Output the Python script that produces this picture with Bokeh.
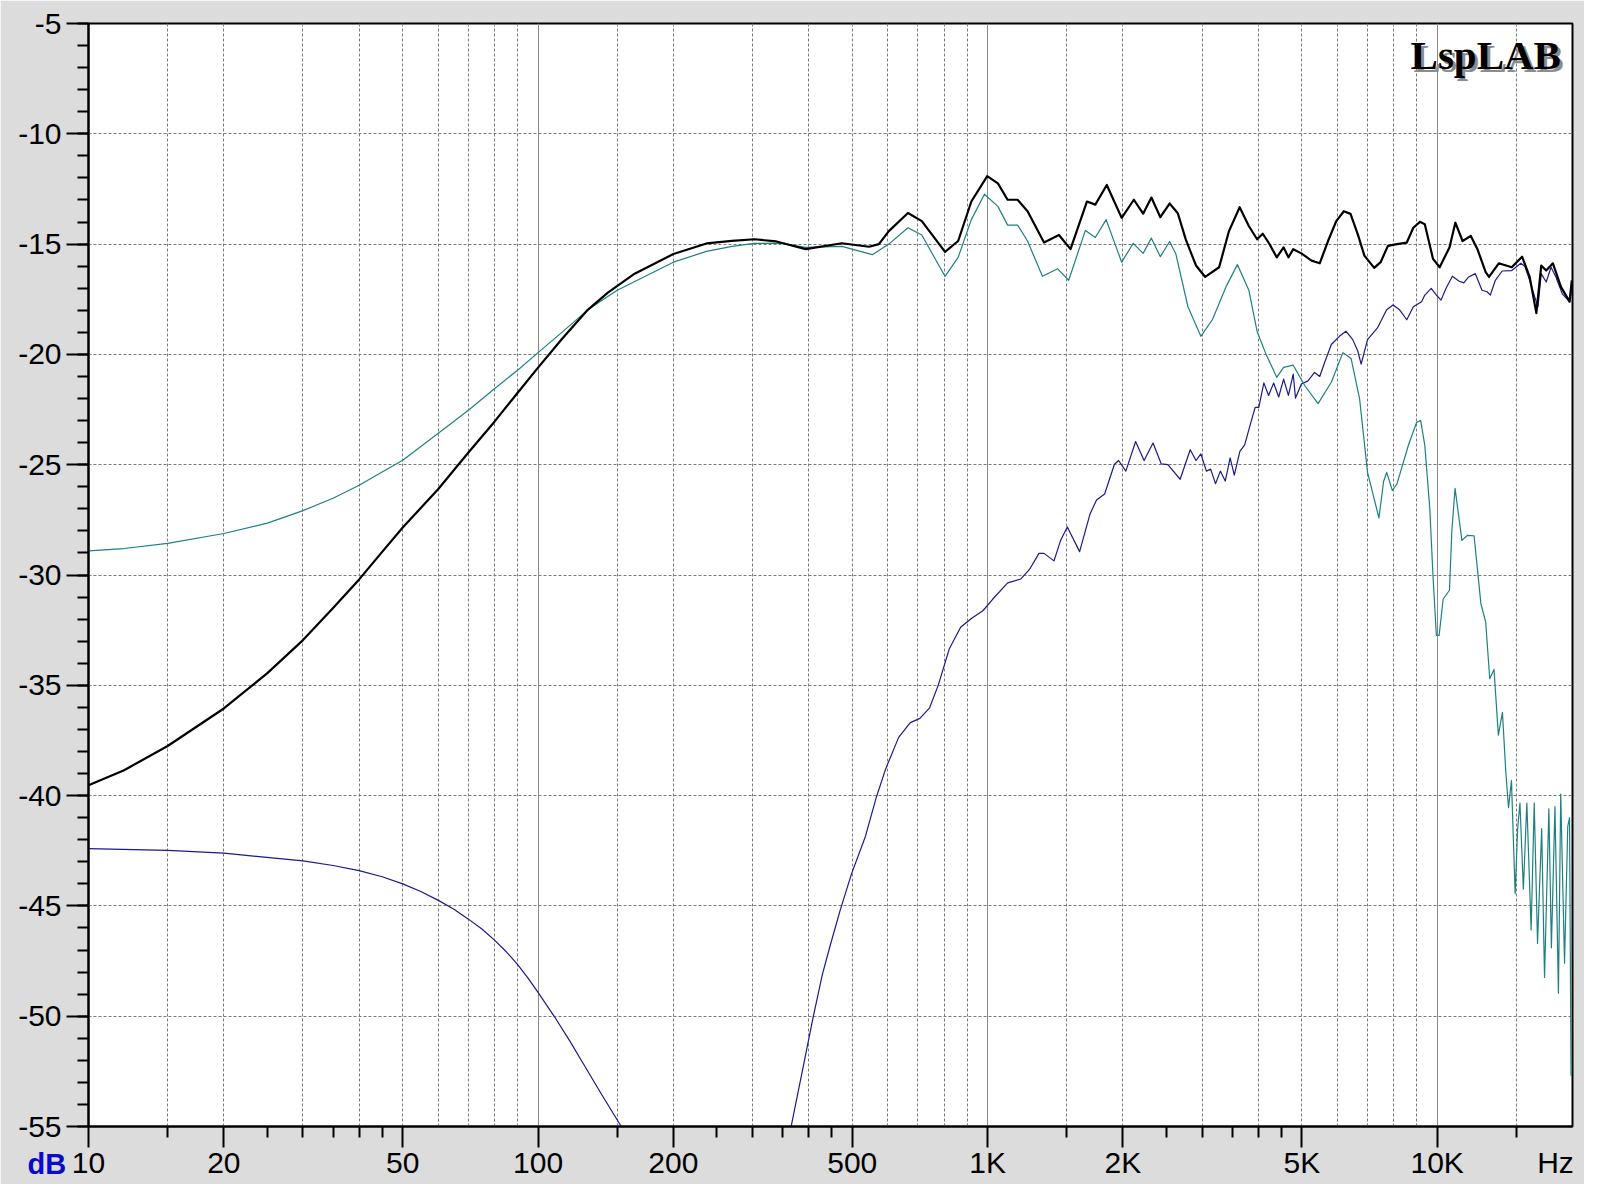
from bokeh.plotting import figure
from bokeh.models import Range1d, FixedTicker, CustomJSTickFormatter, Grid, Label, LogAxis, Title
from bokeh.embed import file_html
from bokeh.resources import INLINE

# ---------------- data (Hz, dB) ----------------
total_hz = [10, 12, 15, 20, 25, 30, 35, 40, 45, 50, 60, 70, 80, 90, 100, 113, 129, 143, 164, 200, 237,
            270, 303, 339, 394, 474, 545, 573, 603, 665, 714, 804, 860, 920, 998, 1054, 1108, 1166, 1227,
            1335, 1441, 1529, 1663, 1736, 1841, 1987, 2115, 2218, 2314, 2422, 2540, 2649, 2760, 2908,
            3048, 3273, 3443, 3636, 3811, 3976, 4093, 4217, 4397, 4554, 4668, 4784, 4988, 5254, 5480,
            5718, 5964, 6201, 6416, 6660, 6888, 7243, 7486, 7770, 8142, 8559, 8850, 9154, 9386, 9790,
            10128, 10650, 10976, 11390, 11880, 12290, 12820, 13040, 13710, 14650, 15450, 16060, 16620,
            17040, 17480, 18090, 18850, 19700, 19930]
total_db = [-39.53, -38.85, -37.75, -36.05, -34.45, -32.95, -31.5, -30.2, -28.95, -27.85, -26.1, -24.45,
            -23.05, -21.75, -20.6, -19.3, -17.98, -17.2, -16.34, -15.45, -14.97, -14.85, -14.78, -14.88,
            -15.23, -14.96, -15.12, -15.0, -14.41, -13.59, -13.96, -15.35, -14.86, -13.07, -11.92, -12.25,
            -12.99, -12.99, -13.51, -14.93, -14.59, -15.23, -13.07, -13.21, -12.32, -13.81, -12.99, -13.62,
            -12.89, -13.78, -13.16, -13.6, -14.8, -15.97, -16.49, -16.05, -14.41, -13.33, -14.18, -14.78,
            -14.53, -14.93, -15.6, -15.15, -15.6, -15.23, -15.42, -15.75, -15.87, -14.86, -13.96, -13.51,
            -13.63, -14.56, -15.52, -16.08, -15.82, -15.08, -15.0, -14.93, -14.26, -13.99, -14.1, -15.67,
            -16.05, -15.15, -14.03, -14.86, -14.63, -15.23, -16.27, -16.49, -15.87, -16.05, -15.57, -16.49,
            -18.13, -15.97, -16.2, -15.87, -16.94, -17.61, -16.64]

woofer_hz = [10, 12, 15, 20, 25, 30, 35, 40, 44, 50, 60, 70, 80, 90.6, 100, 113, 129, 150, 200, 237, 270,
             303, 345, 394, 474, 554, 603, 665, 714, 804, 860, 920, 984, 1054, 1108, 1166, 1227, 1324, 1432,
             1515, 1650, 1736, 1835, 1987, 2108, 2218, 2314, 2422, 2540, 2623, 2790, 2981, 3162, 3390, 3594,
             3811, 3976, 4148, 4397, 4554, 4784, 5074, 5433, 5815, 6170, 6436, 6720, 7000, 7420, 7600, 7720,
             7950, 8142, 8630, 9000, 9190, 9386, 9630, 9790, 9960, 10100, 10310, 10650, 10780, 10960,
             11350, 11680, 12080, 12510, 12820, 13090, 13380, 13680, 13970, 14210, 14410, 14630, 14910,
             15100, 15280, 15550, 15830, 16180, 16440, 16720, 17080, 17330, 17720, 17950, 18280, 18610,
             18830, 19200, 19520, 19700, 19850]
woofer_db = [-28.91, -28.8, -28.57, -28.12, -27.65, -27.08, -26.52, -25.93, -25.44, -24.8, -23.57, -22.53,
             -21.56, -20.67, -19.92, -19.0, -17.98, -17.09, -15.82, -15.33, -15.1, -14.97, -14.96, -15.15,
             -15.1, -15.48, -15.0, -14.26, -14.59, -16.46, -15.6, -13.89, -12.74, -13.29, -14.14, -14.14,
             -14.86, -16.46, -16.12, -16.64, -14.38, -14.7, -13.89, -15.82, -14.97, -15.42, -14.73, -15.57,
             -14.88, -15.45, -17.84, -19.18, -18.43, -16.94, -15.93, -17.09, -18.96, -19.92, -21.04, -20.59,
             -20.49, -21.41, -22.23, -21.26, -19.92, -20.19, -22.0, -25.35, -27.41, -25.76, -25.35, -26.17,
             -25.86, -24.12, -23.09, -22.99, -24.12, -27.0, -30.08, -32.74, -32.74, -31.1, -30.69, -28.02,
             -26.07, -28.43, -28.2, -28.22, -31.3, -32.13, -34.7, -34.28, -37.26, -36.23, -38.9, -40.55,
             -39.32, -44.45, -41.5, -40.34, -44.24, -40.34, -46.09, -40.34, -46.7, -41.5, -48.24, -40.6,
             -46.9, -40.5, -48.96, -39.93, -47.6, -41.4, -41.0, -52.7]

tweeter_hz = [10, 15, 20, 30, 35, 40, 45, 50, 55, 60, 65, 70, 75, 80, 85, 90, 95, 100, 109, 117.6, 126.3,
              138.5, 150.5, 154, 158,
              160, 355,
              358, 366, 389, 410, 429, 447, 470, 498, 535, 566, 593, 634, 673, 707, 743, 777, 822, 871,
              920, 976, 1026, 1108, 1186, 1238, 1301, 1335, 1405, 1454, 1504, 1602, 1690, 1747, 1821,
              1914, 1956, 2030, 2134, 2229, 2333, 2433, 2517, 2681, 2823, 2908, 2981, 3067, 3134, 3213,
              3294, 3378, 3463, 3538, 3640, 3731, 3846, 3937, 4011, 4116, 4217, 4328, 4441, 4554, 4668,
              4784, 4840, 4988, 5160, 5337, 5480, 5619, 5815, 6060, 6267, 6489, 6660, 6775, 7000, 7364,
              7720, 7976, 8250, 8559, 8850, 9232, 9386, 9700, 9960, 10200, 10460, 10810, 11170, 11460,
              11750, 12160, 12580, 12910, 13130, 13470, 13950, 14650, 15350, 15660, 16060, 16480, 16760,
              17040, 17480, 17920, 18370, 19000, 19700, 19930]
tweeter_db = [-42.4, -42.48, -42.61, -42.96, -43.17, -43.4, -43.68, -44.0, -44.36, -44.75, -45.15, -45.6,
              -46.05, -46.55, -47.08, -47.65, -48.27, -48.92, -50.05, -51.12, -52.18,
              -53.55, -54.75, -55.08, -55.45,
              float("nan"), float("nan"),
              -55.4, -54.95, -52.27, -49.96, -48.1, -46.76, -45.19, -43.55, -41.84, -40.05, -38.8, -37.36,
              -36.69, -36.5, -36.02, -34.98, -33.34, -32.37, -31.97, -31.62, -31.1, -30.36, -30.18, -29.76,
              -29.02, -29.02, -29.36, -28.42, -27.82, -28.94, -27.23, -26.6, -26.33, -24.99, -24.81, -25.29,
              -23.95, -24.81, -24.02, -24.96, -25.0, -25.66, -24.32, -24.81, -24.51, -25.29, -25.2, -25.86,
              -25.29, -25.74, -24.69, -25.47, -24.4, -24.1, -23.13, -22.4, -22.4, -21.29, -21.86, -21.3,
              -21.93, -21.12, -21.86, -20.89, -21.98, -21.34, -21.2, -20.82, -21.0, -20.37, -19.55, -19.18,
              -18.95, -19.33, -19.85, -20.44, -19.33, -18.8, -17.98, -17.76, -17.98, -18.43, -17.84, -17.61,
              -17.31, -17.01, -17.31, -17.54, -17.01, -16.46, -16.67, -16.76, -16.49, -16.34, -17.09, -17.16,
              -17.31, -16.64, -16.22, -16.2, -15.87, -16.0, -16.64, -17.39, -17.84, -16.34, -16.72, -16.05,
              -16.49, -17.27, -17.61, -17.1]

x_major_ticks = [10, 20, 50, 100, 200, 500, 1000, 2000, 5000, 10000]
x_minor_ticks = [15, 25, 30, 35, 40, 45, 150, 250, 300, 350, 400, 450,
                 1500, 2500, 3000, 3500, 4000, 4500, 15000]
x_grid_dashed = [15, 20, 30, 40, 50, 60, 70, 80, 90, 150, 200, 300, 400, 500, 600, 700, 800, 900,
                 1500, 2000, 3000, 4000, 5000, 6000, 7000, 8000, 9000, 15000]
x_grid_solid = [100, 1000, 10000]
unit_label_x = 18335          # where the "Hz" unit sits in the tick-label row
y_major_ticks = list(range(-55, -4, 5))
y_minor_ticks = list(range(-55, -4))
y_grid = list(range(-50, -9, 5))

BG = "#dcdcdc"
FONT = "Liberation Sans"

p = figure(width=1584, height=1184, x_axis_type="log",
           x_range=Range1d(10, 20000), y_range=Range1d(-55, -5),
           output_backend="svg", toolbar_location=None,
           min_border_left=88, min_border_right=12, min_border_top=23, min_border_bottom=58,
           background_fill_color="white", border_fill_color=BG)
p.outline_line_color = "black"
p.outline_line_width = 2

# x axis 1: tick marks only (hugs the frame)
xa = p.xaxis[0]
xa.ticker = FixedTicker(ticks=x_major_ticks, minor_ticks=x_minor_ticks)
xa.formatter = CustomJSTickFormatter(code="return '';")
xa.major_label_text_font_size = "0px"
xa.major_label_standoff = 0
xa.major_tick_out = 21
xa.minor_tick_out = 11

# x axis 2: tick labels only
xl = LogAxis(ticker=FixedTicker(ticks=x_major_ticks + [unit_label_x]),
             formatter=CustomJSTickFormatter(code="""
                 if (tick > 15000) return 'Hz';
                 return tick >= 1000 ? (tick/1000) + 'K' : String(tick);"""))
xl.axis_line_color = None
xl.major_tick_line_color = None
xl.minor_tick_line_color = None
xl.major_tick_out = 0
xl.minor_tick_out = 0
xl.major_tick_in = 0
xl.minor_tick_in = 0
xl.major_label_standoff = -2
xl.major_label_text_font = FONT
xl.major_label_text_font_size = "30px"
xl.major_label_text_color = "black"
p.add_layout(xl, "below")

ya = p.yaxis[0]
ya.ticker = FixedTicker(ticks=y_major_ticks, minor_ticks=y_minor_ticks)
ya.formatter = CustomJSTickFormatter(code="return String(tick);")
ya.major_tick_out = 22
ya.minor_tick_out = 11
ya.major_label_standoff = 5
ya.major_label_text_font = FONT
ya.major_label_text_font_size = "30px"
ya.major_label_text_color = "black"

for ax in (xa, ya):
    ax.axis_line_color = "black"
    ax.axis_line_width = 2
    ax.major_tick_line_color = "black"
    ax.major_tick_line_width = 2
    ax.minor_tick_line_color = "black"
    ax.minor_tick_line_width = 2
    ax.major_tick_in = 0
    ax.minor_tick_in = 0

# "dB" unit, in the tick-label row, left of the frame
db_title = Title(text="dB", align="left", vertical_align="top", offset=-61,
                 text_font=FONT, text_font_style="bold", text_font_size="29px",
                 text_color="#0a0ac8")
try:
    db_title.standoff = -67
except Exception:
    db_title.standoff = 0
p.add_layout(db_title, "below")

# grids
p.xgrid[0].ticker = FixedTicker(ticks=x_grid_dashed)
p.xgrid[0].grid_line_color = "#7a7a7a"
p.xgrid[0].grid_line_dash = "3 2"
p.xgrid[0].grid_line_width = 1
p.ygrid[0].ticker = FixedTicker(ticks=y_grid)
p.ygrid[0].grid_line_color = "#7a7a7a"
p.ygrid[0].grid_line_dash = "3 2"
p.ygrid[0].grid_line_width = 1
solid = Grid(dimension=0, ticker=FixedTicker(ticks=x_grid_solid),
             grid_line_color="#8a8a8a", grid_line_width=1)
p.add_layout(solid)

# curves
p.line(tweeter_hz, tweeter_db, line_color="#1a1a8c", line_width=1.2, line_join="round")
p.line(woofer_hz, woofer_db, line_color="#1f8080", line_width=1.2, line_join="round")
p.line(total_hz, total_db, line_color="black", line_width=2.2, line_join="round")

# logo
p.add_layout(Label(x=18850, y=-6.45, text="LspLAB", text_align="right", text_baseline="alphabetic",
                   x_offset=3, y_offset=-3, text_font="Liberation Serif", text_font_style="bold",
                   text_font_size="41px", text_color="#8c8c8c"))
p.add_layout(Label(x=18850, y=-6.45, text="LspLAB", text_align="right", text_baseline="alphabetic",
                   text_font="Liberation Serif", text_font_style="bold",
                   text_font_size="41px", text_color="black"))

open("out.html", "w").write(file_html(p, INLINE))
